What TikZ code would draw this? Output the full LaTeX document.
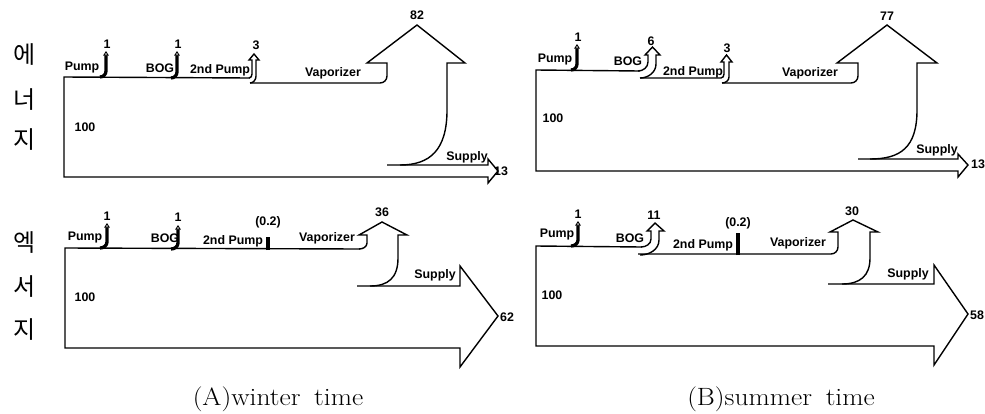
\documentclass[tikz,border=0pt]{standalone}
\usepackage{fontspec}
\newfontfamily\labelfont{Liberation Sans}
\newfontfamily\krfont{Noto Sans CJK KR}
\usetikzlibrary{arrows.meta}

\begin{document}
\begin{tikzpicture}[x=1pt,y=-1pt,
  flow/.style={line width=1.4pt, line join=miter},
  stem/.style={line width=3.3pt, -{Triangle[open,length=4.5pt,width=5.5pt,line width=0.9pt]}},
  bar/.style={line width=3.4pt},
  lbl/.style={font=\labelfont\bfseries\fontsize{12.4}{13}\selectfont, inner sep=0pt},
  kr/.style={font=\krfont\fontsize{24}{26}\selectfont, inner sep=0pt},
  caption/.style={font=\fontsize{25}{28}\selectfont, inner sep=0pt, xscale=1.1}]
\useasboundingbox (0,0) rectangle (985,413);

% ---------------- (A) energy ----------------
\draw[flow] (250,78) -- (64,77) -- (64,177) -- (488,177) -- (488,183) -- (498,171) -- (488,159) -- (488,165) -- (387,165);
\draw[stem] (100,77) to[out=0,in=-90] (106,71) -- (106,51);
\draw[stem] (171,78) to[out=0,in=-90] (177,72) -- (177,51);
\draw[flow] (249,78) to[out=0,in=-90] (252,74) -- (252,60) -- (249,60) -- (254,54) -- (259,60) -- (256,60) -- (256,76) to[out=-90,in=0] (250,83);
\draw[flow] (250,83) -- (380,83) to[out=0,in=-90] (387,76) -- (387,63) -- (367,63) -- (417,25) -- (465,63) -- (447,63) -- (447,110) .. controls (447,150) and (430,165) .. (400,165);

\node[lbl] (aePump) at (82,68) {Pump};
\node[lbl] (aePumpV) at (107,44) {1};
\node[lbl] (aeBOG) at (160,68) {BOG};
\node[lbl] (aeBOGV) at (178,44) {1};
\node[lbl] (aeSec) at (220,70) {2nd Pump};
\node[lbl] (aeSecV) at (256,45) {3};
\node[lbl] (aeVap) at (333,73) {Vaporizer};
\node[lbl] (aeVapV) at (417,15) {82};
\node[lbl] (aeIn) at (85,127) {100};
\node[lbl] (aeSup) at (467,157) {Supply};
\node[lbl] (aeSupV) at (501,171) {13};

% ---------------- (B) energy ----------------
\draw[flow] (640,71) -- (536,70) -- (536,171) -- (958,171) -- (958,177) -- (968,165) -- (958,154) -- (958,159) -- (858,159);
\draw[stem] (571,70) to[out=0,in=-90] (577,64) -- (577,44);
\draw[flow] (638,71) to[out=0,in=-90] (648,62) -- (648,55) -- (645,55) -- (652.5,47) -- (660,55) -- (656,55) -- (656,64) to[out=-90,in=0] (640,78);
\draw[flow] (640,78) -- (721,78) to[out=0,in=-90] (724,74) -- (724,62) -- (721,62) -- (726.5,55) -- (732,62) -- (729,62) -- (729,77) to[out=-90,in=0] (722,83);
\draw[flow] (722,83) -- (851,83) to[out=0,in=-90] (858,76) -- (858,63) -- (837,63) -- (887,25) -- (937,63) -- (917,63) -- (917,110) .. controls (917,148) and (900,159) .. (870,159);

\node[lbl] (bePump) at (555,60) {Pump};
\node[lbl] (bePumpV) at (578,37) {1};
\node[lbl] (beBOG) at (628,61) {BOG};
\node[lbl] (beBOGV) at (651,41) {6};
\node[lbl] (beSec) at (693,72) {2nd Pump};
\node[lbl] (beSecV) at (727,48) {3};
\node[lbl] (beVap) at (810,73) {Vaporizer};
\node[lbl] (beVapV) at (887,16) {77};
\node[lbl] (beIn) at (553,118) {100};
\node[lbl] (beSup) at (937,150) {Supply};
\node[lbl] (beSupV) at (978,164) {13};

% ---------------- (A) exergy ----------------
\draw[flow] (360,249) -- (65,248) -- (65,348) -- (460,348) -- (460,367) -- (498,316) -- (460,266) -- (460,286) -- (357,286);
\draw[stem] (100,248) to[out=0,in=-90] (107,242) -- (107,223);
\draw[stem] (171,249) to[out=0,in=-90] (178,243) -- (178,225);
\draw[flow] (359,249) to[out=0,in=-90] (367,243) -- (367,235) -- (359,235) -- (382,222) -- (407,235) -- (398,235) -- (398,258) .. controls (398,278) and (388,286) .. (370,286);
\draw[bar] (268,250) -- (268,237);

\node[lbl] (axPump) at (85,238) {Pump};
\node[lbl] (axPumpV) at (107,216) {1};
\node[lbl] (axBOG) at (165,238) {BOG};
\node[lbl] (axBOGV) at (178,217) {1};
\node[lbl] (axSec) at (233,241) {2nd Pump};
\node[lbl] (axSecV) at (268,222) {(0.2)};
\node[lbl] (axVap) at (327,238) {Vaporizer};
\node[lbl] (axVapV) at (382,212) {36};
\node[lbl] (axIn) at (85,297) {100};
\node[lbl] (axSup) at (435,275) {Supply};
\node[lbl] (axSupV) at (507,317) {62};

% ---------------- (B) exergy ----------------
\draw[flow] (642,247) -- (536,246) -- (536,346) -- (934,346) -- (934,365) -- (968,314) -- (934,265) -- (934,284) -- (828,284);
\draw[stem] (571,246) to[out=0,in=-90] (578,240) -- (578,221);
\draw[flow] (641,247) to[out=0,in=-90] (651,239) -- (651,231) -- (647,231) -- (655,223) -- (664,231) -- (659,231) -- (659,240) to[out=-90,in=0] (640,255);
\draw[flow] (638,254) -- (831,254) to[out=0,in=-90] (838,247) -- (838,232) -- (830,232) -- (853,220) -- (878,232) -- (870,232) -- (870,258) .. controls (870,276) and (860,284) .. (842,284);
\draw[bar] (738,255) -- (738,233);

\node[lbl] (bxPump) at (557,235) {Pump};
\node[lbl] (bxPumpV) at (578,214) {1};
\node[lbl] (bxBOG) at (630,238) {BOG};
\node[lbl] (bxBOGV) at (654,215) {11};
\node[lbl] (bxSec) at (703,245) {2nd Pump};
\node[lbl] (bxSecV) at (738,223) {(0.2)};
\node[lbl] (bxVap) at (798,243) {Vaporizer};
\node[lbl] (bxVapV) at (852,211) {30};
\node[lbl] (bxIn) at (552,295) {100};
\node[lbl] (bxSup) at (908,274) {Supply};
\node[lbl] (bxSupV) at (977,315) {58};

% ---------------- side titles and captions ----------------
\node[kr] (t1) at (25,55) {에};
\node[kr] (t2) at (25,100) {너};
\node[kr] (t3) at (25,140) {지};
\node[kr] (t4) at (25,243) {엑};
\node[kr] (t5) at (25,287) {서};
\node[kr] (t6) at (25,330) {지};

\node[caption] (capA) at (278,399) {(A)winter\hspace{0.5em}time};
\node[caption] (capB) at (781,399) {(B)summer\hspace{0.5em}time};
\end{tikzpicture}
\end{document}
